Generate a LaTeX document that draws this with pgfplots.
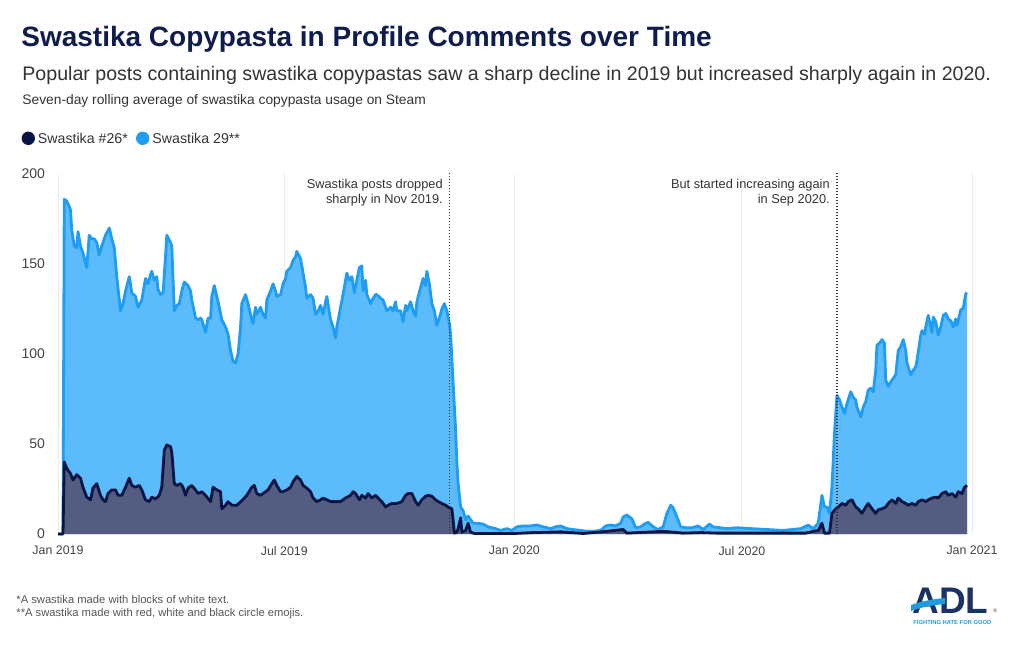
\documentclass[border=0pt]{standalone}
\usepackage{pgfplots}
\pgfplotsset{compat=1.18}
\usepackage{pgfplotstable}
\usepackage{fontspec}
\setmainfont{Liberation Sans}

\definecolor{titlenavy}{HTML}{0F1D4E}
\definecolor{darkline}{HTML}{0B1544}
\definecolor{darkfill}{HTML}{545C82}
\definecolor{lightfill}{HTML}{5CBBFA}
\definecolor{lightline}{HTML}{1E9DF2}
\definecolor{gridgrey}{HTML}{EBEBEB}
\definecolor{ticktext}{HTML}{444444}
\definecolor{bodytext}{HTML}{333333}
\definecolor{foottext}{HTML}{555555}
\definecolor{logonavy}{HTML}{1B3264}
\definecolor{logoblue}{HTML}{1E9DDC}

% day 0 = 1 Jan 2019, seven-day rolling averages
\pgfplotstableread{
day val
0 0
4 0
5 186
7 185
9 182
10 180
11 169
13 160
15 159
16 168
18 160
20 156
23 148
25 166
27 164
29 164
31 162
33 155
35 160
38 166
41 170
43 164
45 159
47 143
50 124
52 128
54 135
57 143
59 134
62 132
64 126
67 130
70 142
72 139
74 144
75 146
77 141
79 143
80 136
82 133
84 134
86 154
87 166
90 162
91 160
93 124
95 127
97 128
99 135
101 140
104 138
106 135
107 130
110 120
112 119
114 120
115 119
118 112
120 120
122 120
123 132
125 138
127 132
129 126
131 119
134 115
136 111
138 102
140 96
142 95
144 100
146 115
147 128
150 133
152 128
154 122
156 117
158 126
159 122
162 126
164 122
166 120
167 130
170 135
172 139
174 135
175 132
178 133
180 139
182 142
183 146
186 148
188 152
190 154
191 157
194 153
196 145
198 137
199 131
202 133
204 131
206 122
208 124
210 127
212 122
214 129
215 132
218 119
220 115
222 109
223 115
226 126
228 133
230 141
231 145
233 141
235 143
237 134
239 141
241 148
243 149
244 135
246 141
247 133
250 128
252 131
254 133
255 133
258 131
260 130
262 126
263 124
266 126
268 124
270 129
271 124
274 124
276 118
278 127
279 124
282 129
284 124
286 121
287 129
290 137
292 142
294 138
295 146
297 139
299 128
301 124
303 116
305 120
307 125
309 128
311 124
313 117
314 111
316 84
318 58
319 40
320 28
322 15
324 13
326 8
328 10
330 8
332 6
336 6
340 5.5
344 4
350 3
354 2
359 3
363 2
367 4
372 4.5
378 4.5
383 5
388 4
394 3
398 4
402 4.5
407 3
412 2.5
418 2
423 1.5
428 1.5
434 2
438 4.5
442 5
446 4.5
450 6
452 9.5
455 10.5
459 8.5
462 3.5
466 4
470 6
472 6.5
476 4
480 2.5
484 4
487 11.5
490 16
492 14.5
495 9.5
498 4
502 3.5
507 3.5
512 4.5
516 2.5
521 5.5
524 4
535 3
543 3.5
554 3
567 2.5
580 2
594 3
600 5
604 3
608 6
611 21.5
613 15
615 15
617 11.5
619 26
621 56
623 77
625 74.5
627 70.5
629 67
631 72.5
634 79
636 76
638 74.5
639 70.5
642 65
644 70.5
646 73.5
648 80
650 81
652 79
654 91
655 105
657 106
659 108
661 106
662 85.5
664 82
666 84.5
668 86.5
670 88.5
672 102
674 104
676 108
678 102
679 95
682 88.5
684 91
686 93
687 96.5
690 110.5
691 113
693 111
694 115
696 121.5
698 115
699 112
700 120.5
702 118
704 110.5
706 115
708 121.5
710 122.5
712 119.5
714 118.5
716 115
718 119.5
719 116
722 124.5
724 125.5
726 133.5
727 134
}\swtwentynine

\pgfplotstableread{
day val
0 0
4 0
5 40
7 36.5
10 33.5
12 30
15 33
18 31
20 26
23 20.5
26 19
28 25.5
31 28
34 21.5
36 19
38 18
40 22.5
43 24.5
46 24.5
48 21.5
51 21.5
54 26
57 31
59 27
62 26
65 27
67 24.5
70 19
73 18
75 20.5
78 19.5
81 21.5
83 26
85 46.5
87 49.5
90 48.5
91 45.5
93 28
95 27
98 28
100 26
102 21.5
104 25.5
107 27
110 24.5
112 22.5
115 23.5
118 21.5
122 18
124 26
127 24.5
130 23.5
131 14
134 16
136 18
139 16
143 16
147 18.5
151 21.5
155 26
157 27
159 22.5
162 21.5
166 23.5
168 24.5
171 28
173 30
175 27
178 23.5
180 23.5
183 24.5
186 26
188 29
191 32
194 30
196 27
199 25.5
202 23.5
204 20
207 18
210 19
212 20
215 19
218 18
222 18
226 18
230 20
234 21.5
236 23.5
238 22.5
241 19
243 21.5
246 20
248 22.5
251 20
254 21.5
256 20
259 18
262 15
264 16
267 17
271 17
275 18
278 21.5
280 22.5
283 22.5
286 18
288 16
291 19
294 21
296 21.5
299 21
302 19
304 18
307 17
310 16
312 15
315 14
316 8
317 0.5
319 1
320 3
322 9
323 1
326 2
328 6
330 1
333 0.3
365 0.3
380 0.8
402 1.2
420 0.3
439 1.5
452 2.5
455 0.5
484 1.5
500 0.5
515 0.8
527 0.5
560 0.5
598 0.5
604 1.5
608 2
611 6
613 0.5
617 0.5
619 11.5
622 14
624 15
627 17
630 16
632 18
635 19
638 15
640 14
643 11.5
646 15
648 17
651 14
654 11.5
656 13.5
659 14
662 15
664 17
667 19
670 17
672 20
675 18
678 17
680 16
683 17
686 16
688 18
691 19
694 18
696 19
699 20
702 20.5
704 20
707 22.5
710 23.5
712 21.5
715 22.5
718 20.5
720 23.5
723 22.5
725 26
727 27
}\swtwentysix

\begin{document}
\begin{tikzpicture}
\begin{scope}[x=0.5pt,y=-0.5pt]
\path[use as bounding box] (0,0) rectangle (1020,650);

% headings
\node[anchor=base west, inner sep=0, text=titlenavy, font=\fontsize{14}{16}\selectfont\bfseries]
  at (21,46) {Swastika Copypasta in Profile Comments over Time};
\node[anchor=base west, inner sep=0, text=bodytext, font=\fontsize{9.8}{11}\selectfont]
  at (22,80) {Popular posts containing swastika copypastas saw a sharp decline in 2019 but increased sharply again in 2020.};
\node[anchor=base west, inner sep=0, text=bodytext, font=\fontsize{6.9}{8}\selectfont]
  at (22,104) {Seven-day rolling average of swastika copypasta usage on Steam};

% legend
\fill[darkline] (28.3,138.3) circle (6.7);
\node[anchor=base west, inner sep=0, text=bodytext, font=\fontsize{7.1}{8}\selectfont]
  at (37.5,143.3) {Swastika \#26*};
\fill[lightline] (142.7,138.3) circle (6.7);
\node[anchor=base west, inner sep=0, text=bodytext, font=\fontsize{7.1}{8}\selectfont]
  at (152,143.3) {Swastika 29**};

% footnotes
\node[anchor=base west, inner sep=0, text=foottext, font=\fontsize{5.6}{6}\selectfont]
  at (16,603) {*A swastika made with blocks of white text.};
\node[anchor=base west, inner sep=0, text=foottext, font=\fontsize{5.6}{6}\selectfont]
  at (16,616) {**A swastika made with red, white and black circle emojis.};

% logo
\node[anchor=base west, inner sep=0, text=logonavy, font=\fontsize{18.5}{20}\selectfont\bfseries]
  at (912,613) {ADL};
\fill[logoblue] (911,605) .. controls (922,601) and (933,599) .. (945,598)
  -- (945,604) .. controls (933,605) and (922,607) .. (911,611) -- cycle;
\node[anchor=base west, inner sep=0, text=logonavy, font=\fontsize{2.5}{3}\selectfont]
  at (993,612) {\textregistered};
\node[anchor=base west, inner sep=0, text=logoblue, font=\fontsize{2.9}{3}\selectfont\bfseries]
  at (913,624) {FIGHTING HATE FOR GOOD};
\end{scope}

\begin{axis}[
    at={(29pt,-267pt)}, anchor=south west,
    scale only axis, width=457pt, height=180pt,
    xmin=0, xmax=731, ymin=0, ymax=200,
    clip=false,
    axis line style={draw=none},
    tick style={draw=none},
    xtick={0,181,365,547,731},
    xticklabels={Jan 2019, Jul 2019, Jan 2020, Jul 2020, Jan 2021},
    ytick={0,50,100,150,200},
    xmajorgrids=true,
    major grid style={color=gridgrey, line width=0.5pt},
    /pgf/number format/assume math mode=true,
    xticklabel style={font=\fontsize{6.2}{7}\selectfont, text=ticktext, yshift=-2.5pt},
    yticklabel style={font=\fontsize{7}{8}\selectfont, text=ticktext, xshift=-3pt},
]
\addplot[fill=lightfill, draw=none] table[x=day, y=val] {\swtwentynine} \closedcycle;
\addplot[draw=lightline, line width=1.4pt, line join=round] table[x=day, y=val] {\swtwentynine};
\addplot[fill=darkfill, draw=none] table[x=day, y=val] {\swtwentysix} \closedcycle;
\addplot[draw=darkline, line width=1.4pt, line join=round] table[x=day, y=val] {\swtwentysix};

\draw[bodytext, line width=0.6pt, dash pattern=on 0.6pt off 0.9pt] (axis cs:313,0) -- (axis cs:313,201.5);
\draw[bodytext, line width=0.6pt, dash pattern=on 0.6pt off 0.9pt] (axis cs:623,0) -- (axis cs:623,201.5);

\node[anchor=base east, inner sep=0, text=bodytext, font=\fontsize{6.4}{7}\selectfont]
  at (axis cs:308,191.7) {Swastika posts dropped};
\node[anchor=base east, inner sep=0, text=bodytext, font=\fontsize{6.4}{7}\selectfont]
  at (axis cs:308,183.6) {sharply in Nov 2019.};
\node[anchor=base east, inner sep=0, text=bodytext, font=\fontsize{6.4}{7}\selectfont]
  at (axis cs:617.5,191.7) {But started increasing again};
\node[anchor=base east, inner sep=0, text=bodytext, font=\fontsize{6.4}{7}\selectfont]
  at (axis cs:617.5,183.6) {in Sep 2020.};
\end{axis}
\end{tikzpicture}
\end{document}
